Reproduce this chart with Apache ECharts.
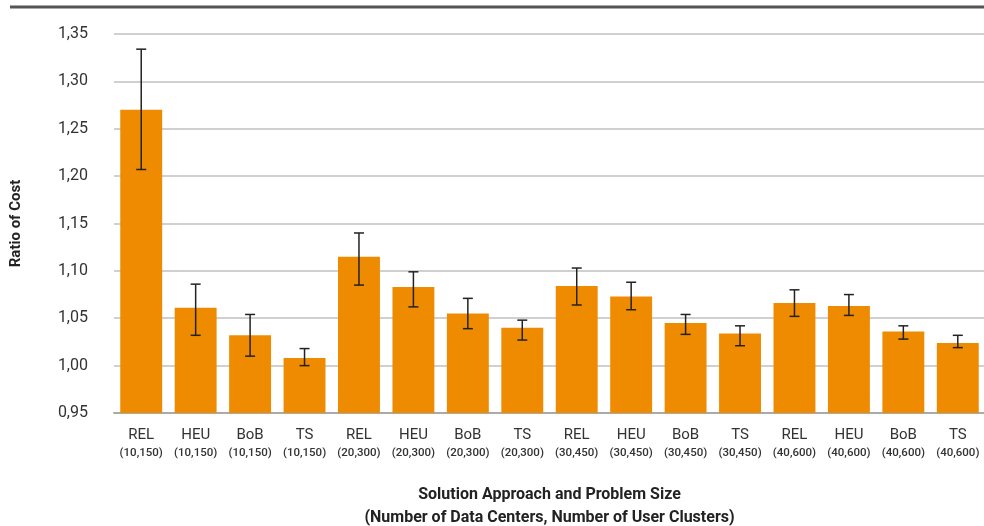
<!DOCTYPE html>
<html>
<head>
<meta charset="utf-8">
<script src="https://cdn.jsdelivr.net/npm/echarts@6/dist/echarts.min.js"></script>
<style>
  html, body { margin: 0; padding: 0; background: #fff; }
  #chart { width: 984px; height: 526px; }
</style>
</head>
<body>
<div id="chart"></div>
<script>
const approaches = ['REL', 'HEU', 'BoB', 'TS', 'REL', 'HEU', 'BoB', 'TS', 'REL', 'HEU', 'BoB', 'TS', 'REL', 'HEU', 'BoB', 'TS']
const sizes = ['(10,150)', '(10,150)', '(10,150)', '(10,150)', '(20,300)', '(20,300)', '(20,300)', '(20,300)',
  '(30,450)', '(30,450)', '(30,450)', '(30,450)', '(40,600)', '(40,600)', '(40,600)', '(40,600)']
const ratio = [1.270, 1.061, 1.032, 1.008, 1.115, 1.083, 1.055, 1.040, 1.084, 1.073, 1.045, 1.034, 1.066, 1.063, 1.036, 1.024]
const errHigh = [1.334, 1.086, 1.054, 1.018, 1.140, 1.099, 1.071, 1.048, 1.103, 1.088, 1.054, 1.042, 1.080, 1.075, 1.042, 1.032]
const errLow = [1.207, 1.032, 1.010, 1.000, 1.085, 1.062, 1.039, 1.027, 1.064, 1.059, 1.033, 1.021, 1.052, 1.053, 1.028, 1.019]
const yTicks = { min: 0.95, max: 1.35, step: 0.05 }

const categories = approaches.map((a, i) => a + '\n' + sizes[i])
const errData = ratio.map((v, i) => [i, errHigh[i], errLow[i]])

const myChart = echarts.init(document.getElementById('chart'))
const option = {
  animation: false,
  grid: {
    left: 114,
    right: -1,
    top: 34,
    bottom: 113,
    outerBoundsMode: 'none'
  },
  graphic: [{ // top rule
    type: 'line',
    shape: { x1: 10, y1: 7, x2: 984, y2: 7 },
    style: { stroke: '#555', lineWidth: 3 }
  }],
  xAxis: {
    type: 'category',
    data: categories,
    name: 'Solution Approach and Problem Size\n(Number of Data Centers, Number of User Clusters)',
    nameLocation: 'middle',
    nameGap: 70,
    nameTextStyle: {
      fontFamily: 'Roboto',
      fontWeight: 'bold',
      fontSize: 16,
      color: '#222',
      lineHeight: 23
    },
    axisLine: { lineStyle: { color: '#aaa', width: 2 } },
    axisTick: { length: 15, lineStyle: { color: '#aaa', width: 2 } },
    axisLabel: {
      margin: 13,
      interval: 0,
      formatter: v => {
        const p = v.split('\n')
        return '{a|' + p[0] + '}\n{b|' + p[1] + '}'
      },
      rich: {
        a: { fontFamily: 'Roboto', fontSize: 15, color: '#333', lineHeight: 19 },
        b: { fontFamily: 'Roboto', fontSize: 11.5, fontWeight: 500, color: '#333', lineHeight: 16 }
      }
    }
  },
  yAxis: {
    type: 'value',
    min: yTicks.min,
    max: yTicks.max,
    interval: yTicks.step,
    name: 'Ratio of Cost',
    nameLocation: 'middle',
    nameGap: 90,
    nameTextStyle: {
      fontFamily: 'Roboto',
      fontWeight: 'bold',
      fontSize: 15,
      color: '#222'
    },
    axisLine: { show: false },
    axisTick: { show: false },
    axisLabel: {
      margin: 26,
      fontFamily: 'Roboto',
      fontSize: 16,
      color: '#333',
      formatter: v => v.toFixed(2).replace('.', ',')
    },
    splitLine: { lineStyle: { color: '#d0d0d0', width: 2 } }
  },
  series: [{
    type: 'bar',
    data: ratio,
    barCategoryGap: '23%',
    itemStyle: { color: '#EF8B00' }
  }, {
    type: 'custom',
    data: errData,
    z: 10,
    renderItem: (params, api) => {
      const x = api.value(0)
      const hi = api.coord([x, api.value(1)])
      const lo = api.coord([x, api.value(2)])
      const w = 5
      const st = { stroke: '#222', lineWidth: 1.5 }
      return {
        type: 'group',
        children: [
          { type: 'line', shape: { x1: hi[0], y1: hi[1], x2: lo[0], y2: lo[1] }, style: st },
          { type: 'line', shape: { x1: hi[0] - w, y1: hi[1], x2: hi[0] + w, y2: hi[1] }, style: st },
          { type: 'line', shape: { x1: lo[0] - w, y1: lo[1], x2: lo[0] + w, y2: lo[1] }, style: st }
        ]
      }
    }
  }]
}

option && myChart.setOption(option)
</script>
</body>
</html>
